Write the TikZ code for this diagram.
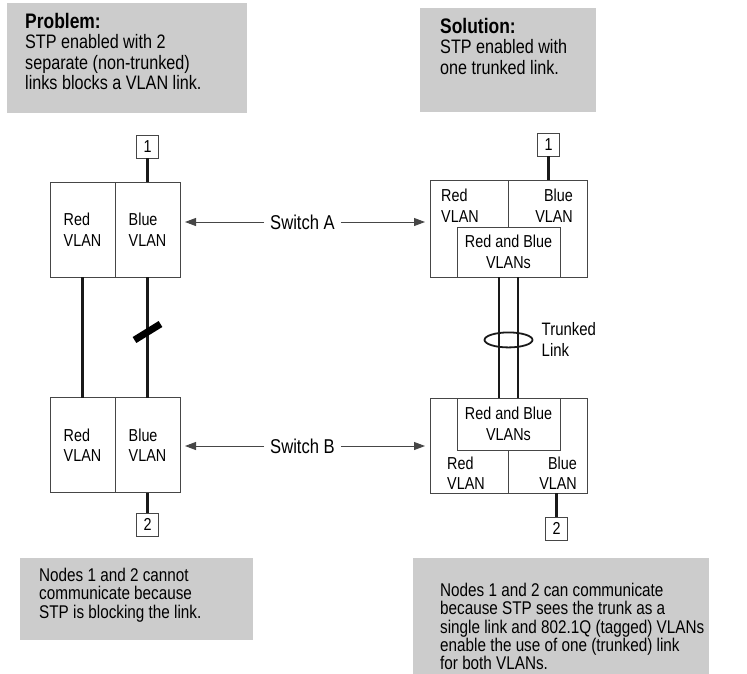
\documentclass[tikz,border=0pt]{standalone}
\usepackage{fontspec}
\setmainfont{Liberation Sans}[FakeStretch=0.83]
\usetikzlibrary{arrows.meta,positioning,calc}
\definecolor{NoteGray}{RGB}{204,204,204}
\definecolor{EdgeGray}{RGB}{70,70,70}
\tikzset{
  notebox/.style={fill=NoteGray,draw=none,anchor=north west,inner sep=0pt},
  notetext/.style={anchor=north west,align=left,inner sep=0pt,font=\fontsize{19.5}{20.5}\selectfont},
  smallnote/.style={anchor=north west,align=left,inner sep=0pt,font=\fontsize{18.4}{18.3}\selectfont},
  lbl/.style={inner sep=0pt,align=left,font=\fontsize{17.3}{20.5}\selectfont},
  vlan/.style={draw=EdgeGray,line width=0.9pt,minimum width=65pt,minimum height=95pt,outer sep=0pt,align=left,font=\fontsize{17.3}{20.5}\selectfont},
  switchbox/.style={draw=EdgeGray,line width=0.9pt,minimum width=157pt,outer sep=0pt},
  trunkbox/.style={draw=EdgeGray,line width=0.9pt,fill=white,minimum width=103pt,outer sep=0pt,align=center,font=\fontsize{17.3}{20.5}\selectfont},
  port/.style={draw=EdgeGray,line width=0.9pt,minimum width=22pt,minimum height=23pt,inner sep=0pt,outer sep=0pt,font=\fontsize{17.3}{18}\selectfont},
  link/.style={line width=2.4pt,draw=black!90},
  divider/.style={draw=EdgeGray,line width=0.9pt},
  swarrow/.style={-{Triangle[length=11pt,width=8pt]},draw=EdgeGray,line width=0.9pt,shorten >=5pt},
  swlabel/.style={inner xsep=6pt,inner ysep=0pt,font=\fontsize{20}{20}\selectfont}
}
\begin{document}
\begin{tikzpicture}[x=1pt,y=-1pt]
\useasboundingbox (0,0) rectangle (747,673);
% notes
\node[notebox,minimum width=240pt,minimum height=110pt](probBox) at (7,3){};
\node[notetext](probText) at ([shift={(18,10)}]probBox.north west){{\fontsize{21}{20.5}\selectfont\bfseries Problem:}\\STP enabled with 2\\separate (non-trunked)\\links blocks a VLAN link.};
\node[notebox,minimum width=176pt,minimum height=104pt](solBox) at (420,8){};
\node[notetext](solText) at ([shift={(20,10)}]solBox.north west){{\fontsize{21}{20.5}\selectfont\bfseries Solution:}\\STP enabled with\\one trunked link.};
\node[notebox,minimum width=233pt,minimum height=82pt](cannotBox) at (20,558){};
\node[smallnote](cannotText) at ([shift={(19,10)}]cannotBox.north west){Nodes 1 and 2 cannot\\communicate because\\STP is blocking the link.};
\node[notebox,minimum width=296pt,minimum height=116pt](canBox) at (413,558){};
\node[smallnote](canText) at ([shift={(27,25)}]canBox.north west){Nodes 1 and 2 can communicate\\because STP sees the trunk as a\\single link and 802.1Q (tagged) VLANs\\enable the use of one (trunked) link\\for both VLANs.};
% problem side
\node[vlan](redA) at (82.5,229.5){Red\\VLAN};
\node[vlan,right=0pt of redA](blueA){Blue\\VLAN};
\node[vlan](redB) at (82.5,445){Red\\VLAN};
\node[vlan,right=0pt of redB](blueB){Blue\\VLAN};
\node[port](portL1) at (147.5,146.5){1};
\node[port](portL2) at (147.5,524.5){2};
\draw[link](portL1)--(blueA);
\draw[link](redA)--(redB);
\draw[link](blueA)--(blueB);
\draw[link](blueB)--(portL2);
\coordinate(blk) at (147.5,332);
\draw[line width=7pt,black] (blk) +(-13,8) -- +(13,-8);
% solution side
\node[switchbox,minimum height=97pt](swA) at (508.5,228.5){};
\node[trunkbox,minimum height=50pt,anchor=south](trunkA) at (swA.south){Red and Blue\\VLANs};
\draw[divider](swA.north)--(trunkA.north);
\node[lbl,anchor=north west](redTxtA) at ([shift={(11,9)}]swA.north west){Red\\VLAN};
\node[lbl,anchor=north east,align=right](blueTxtA) at ([shift={(-14,9)}]swA.north east){Blue\\VLAN};
\node[switchbox,minimum height=95pt](swB) at (508.5,445.5){};
\node[trunkbox,minimum height=52pt,anchor=north](trunkB) at (swB.north){Red and Blue\\VLANs};
\draw[divider](trunkB.south)--(swB.south);
\node[lbl,anchor=south west](redTxtB) at ([shift={(17,-3)}]swB.south west){Red\\VLAN};
\node[lbl,anchor=south east,align=right](blueTxtB) at ([shift={(-10,-3)}]swB.south east){Blue\\VLAN};
\node[port](portR1) at (548.5,144.5){1};
\node[port](portR2) at (556.5,528.5){2};
\draw[link](portR1)--(portR1|-swA.north);
\draw[link](portR2|-swB.south)--(portR2);
\draw[link]([xshift=-9.5pt]trunkA.south)--([xshift=-9.5pt]trunkB.north);
\draw[line width=1.6pt,black!90]([xshift=9.5pt]trunkA.south)--([xshift=9.5pt]trunkB.north);
\coordinate(trunkMid) at ($(trunkA.south)!0.52!(trunkB.north)$);
\draw[line width=1.8pt,black!90](trunkMid) ellipse [x radius=24pt,y radius=7.5pt];
\node[lbl,anchor=west,font=\fontsize{18}{21}\selectfont](trunkLbl) at ([xshift=33pt]trunkMid){Trunked\\Link};
% switch labels
\node[swlabel](swALbl) at (302.5,222){Switch A};
\draw[swarrow](swALbl.west)--(swALbl.west-|blueA.east);
\draw[swarrow](swALbl.east)--(swALbl.east-|swA.west);
\node[swlabel](swBLbl) at (302.5,446){Switch B};
\draw[swarrow](swBLbl.west)--(swBLbl.west-|blueB.east);
\draw[swarrow](swBLbl.east)--(swBLbl.east-|swB.west);
\end{tikzpicture}
\end{document}
